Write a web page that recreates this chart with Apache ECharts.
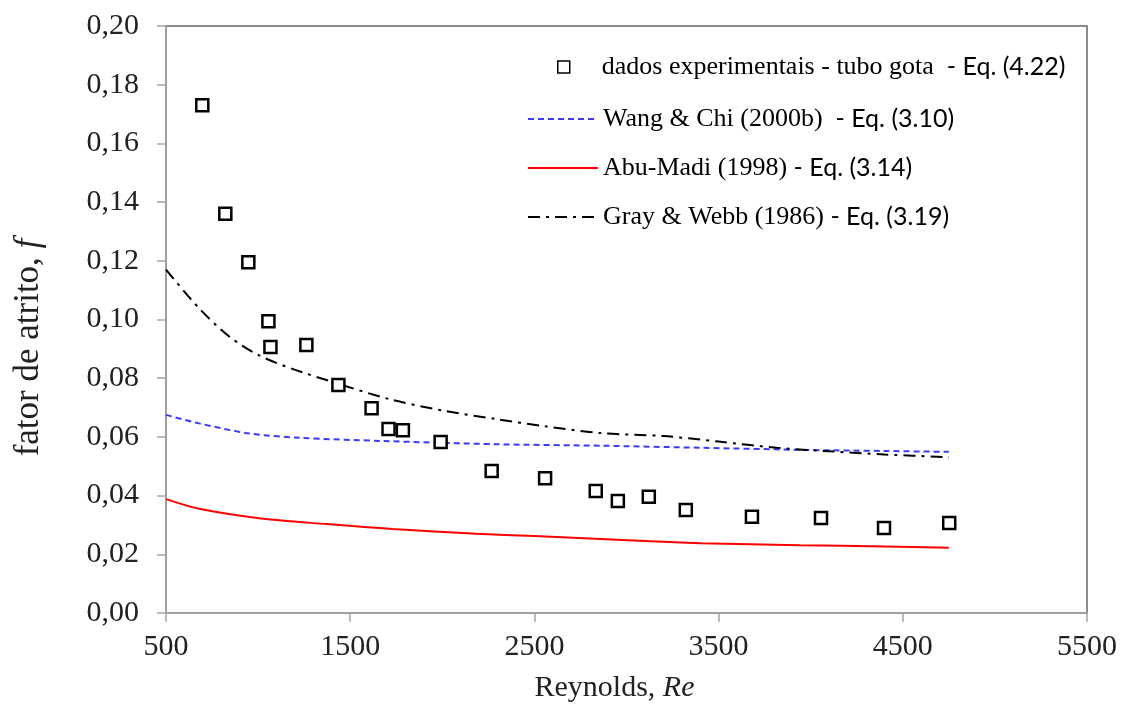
<!DOCTYPE html>
<html>
<head>
<meta charset="utf-8">
<script src="https://cdn.jsdelivr.net/npm/echarts@6/dist/echarts.min.js"></script>
<style>
  html, body { margin: 0; padding: 0; background: #ffffff; }
  #chart { width: 1130px; height: 711px; }
</style>
</head>
<body>
<div id="chart"></div>
<script>
// Experimental friction factor, drop-shaped tube
const expRe = [697, 822, 947, 1056, 1067, 1262, 1436, 1616, 1708, 1786, 1991, 2268, 2558, 2833, 2953, 3121, 3322, 3681, 4056, 4398, 4752];
const expF  = [0.173, 0.136, 0.1195, 0.0994, 0.0906, 0.0913, 0.0777, 0.0698, 0.0627, 0.0623, 0.0583, 0.0484, 0.0459, 0.0416, 0.0382, 0.0396, 0.0351, 0.0328, 0.0324, 0.0290, 0.0307];

// Wang & Chi (2000b) correlation
const wangRe = [500, 680, 950, 1225, 1680, 2290, 2860, 3400, 3940, 4400, 4750];
const wangF  = [0.0675, 0.0646, 0.0612, 0.0597, 0.0586, 0.0575, 0.0570, 0.0563, 0.0556, 0.0552, 0.0549];

// Abu-Madi (1998) correlation
const abuRe = [500, 680, 1005, 1370, 1730, 2185, 2500, 2860, 3400, 3940, 4400, 4750];
const abuF  = [0.0388, 0.0355, 0.0323, 0.0303, 0.0286, 0.0270, 0.0262, 0.0252, 0.0238, 0.0231, 0.0227, 0.0222];

// Gray & Webb (1986) correlation
const grayRe = [500, 680, 845, 1005, 1190, 1400, 1710, 2000, 2290, 2560, 2860, 3200, 3500, 3815, 4100, 4400, 4750];
const grayF  = [0.117, 0.1038, 0.0941, 0.0878, 0.0831, 0.0788, 0.0729, 0.0690, 0.0661, 0.0636, 0.0613, 0.0603, 0.0584, 0.0563, 0.0551, 0.0540, 0.0531];

const seriesNames = [
  'dados experimentais - tubo gota  - Eq. (4.22)',
  'Wang & Chi (2000b)  - Eq. (3.10)',
  'Abu-Madi (1998) - Eq. (3.14)',
  'Gray & Webb (1986) - Eq. (3.19)'
];

const zip = (xs, ys) => xs.map((x, i) => [x, ys[i]]);

const serif = 'Liberation Serif, Times New Roman, serif';
const sans = 'Lato, Open Sans, sans-serif';

// Legend text: author/description in serif, equation reference in sans
function legendText(name) {
  const k = name.lastIndexOf(' - Eq.');
  return '{a|' + name.slice(0, k) + '}{b|' + name.slice(k) + '}';
}
const legendRich = {
  a: { fontFamily: serif, fontSize: 26, color: '#000', lineHeight: 30 },
  b: { fontFamily: sans, fontSize: 25, color: '#000', lineHeight: 30 }
};

const chart = echarts.init(document.getElementById('chart'), null, { renderer: 'canvas' });

chart.setOption({
  backgroundColor: '#ffffff',
  animation: false,
  grid: {
    left: 166, right: 43, top: 26, bottom: 98,
    show: true, borderColor: '#666666', borderWidth: 1.5, backgroundColor: 'transparent'
  },
  legend: [
    {
      data: [seriesNames[0]],
      left: 557, top: 54, padding: 0,
      itemWidth: 12, itemHeight: 12,
      itemStyle: { borderWidth: 1.5 },
      formatter: legendText,
      textStyle: { rich: legendRich, padding: [0, 0, 0, 27] }
    },
    {
      data: seriesNames.slice(1),
      orient: 'vertical',
      left: 527, top: 106, padding: 0,
      itemWidth: 70, itemHeight: 14, itemGap: 23,
      itemStyle: { opacity: 0 },
      formatter: legendText,
      textStyle: { rich: legendRich }
    }
  ],
  xAxis: {
    type: 'value',
    min: 500, max: 5500, interval: 1000,
    name: '{n|Reynolds, }{i|Re}',
    nameLocation: 'middle',
    nameGap: 60,
    nameTextStyle: {
      padding: [0, 24, 0, 0],
      rich: {
        n: { fontFamily: serif, fontSize: 30, color: '#222' },
        i: { fontFamily: serif, fontSize: 30, fontStyle: 'italic', color: '#222' }
      }
    },
    axisLine: { show: true, onZero: false, lineStyle: { color: '#a6a6a6', width: 1.5 } },
    axisTick: { show: true, inside: false, length: 9, lineStyle: { color: '#a6a6a6', width: 1.5 } },
    axisLabel: { fontFamily: serif, fontSize: 30, color: '#222', margin: 19, formatter: v => String(v) },
    splitLine: { show: false }
  },
  yAxis: {
    type: 'value',
    min: 0, max: 0.2, interval: 0.02,
    name: '{n|fator de atrito, }{i|f}',
    nameLocation: 'middle',
    nameGap: 120,
    nameTextStyle: {
      padding: [0, 56, 0, 0],
      rich: {
        n: { fontFamily: serif, fontSize: 35, color: '#222' },
        i: { fontFamily: serif, fontSize: 35, fontStyle: 'italic', color: '#222' }
      }
    },
    axisLine: { show: true, onZero: false, lineStyle: { color: '#a6a6a6', width: 1.5 } },
    axisTick: { show: true, inside: false, length: 9, lineStyle: { color: '#a6a6a6', width: 1.5 } },
    axisLabel: {
      fontFamily: serif, fontSize: 30, color: '#222', margin: 27,
      formatter: v => v.toFixed(2).replace('.', ',')
    },
    splitLine: { show: false }
  },
  series: [
    {
      name: seriesNames[0],
      type: 'scatter',
      data: zip(expRe, expF),
      symbol: 'rect',
      symbolSize: 12,
      itemStyle: { color: '#ffffff', borderColor: '#000000', borderWidth: 2.5, opacity: 1 },
      z: 5
    },
    {
      name: seriesNames[1],
      type: 'line',
      data: zip(wangRe, wangF),
      showSymbol: false, symbol: 'none', smooth: 0.3,
      lineStyle: { color: '#3a3aff', width: 2, type: [6, 4] },
      itemStyle: { color: '#3a3aff' }
    },
    {
      name: seriesNames[2],
      type: 'line',
      data: zip(abuRe, abuF),
      showSymbol: false, symbol: 'none', smooth: 0.3,
      lineStyle: { color: '#ff0000', width: 2, type: 'solid' },
      itemStyle: { color: '#ff0000' }
    },
    {
      name: seriesNames[3],
      type: 'line',
      data: zip(grayRe, grayF),
      showSymbol: false, symbol: 'none', smooth: 0.3,
      lineStyle: { color: '#000000', width: 2, type: [12, 6, 3, 6] },
      itemStyle: { color: '#000000' }
    }
  ]
});
</script>
</body>
</html>
